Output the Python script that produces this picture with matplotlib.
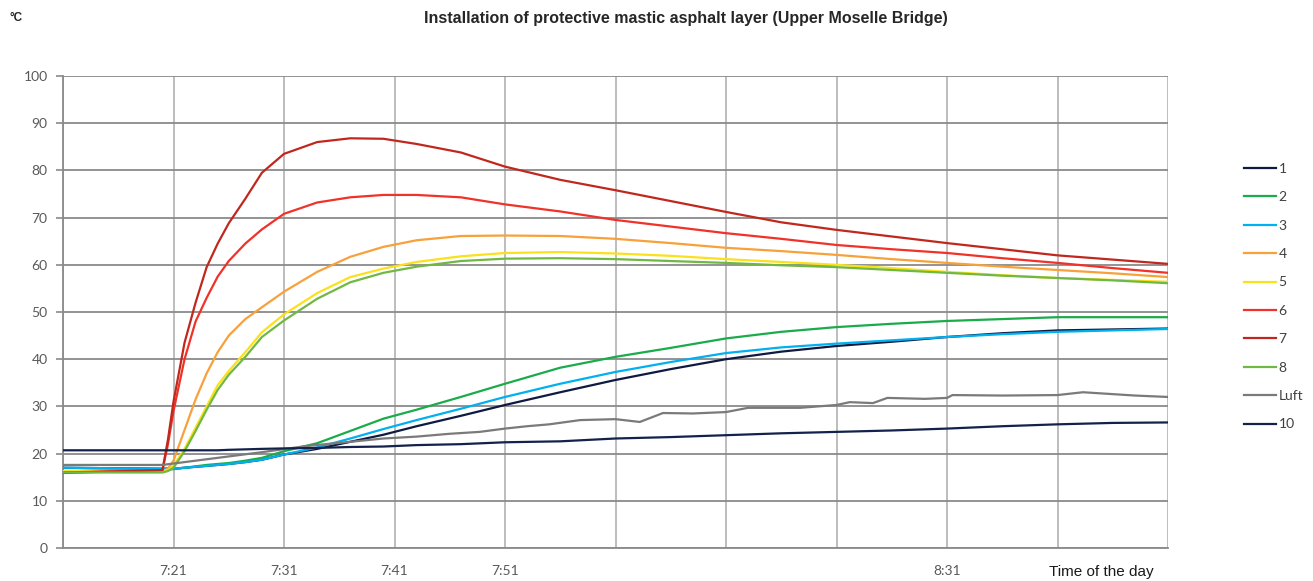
import matplotlib
matplotlib.use("Agg")
import matplotlib.pyplot as plt

# ---------------- data (minutes after 7:11) ----------------
t = [0, 9, 9.5, 10, 11, 12, 13, 14, 15, 16.5, 18, 20, 23, 26, 29, 32, 36, 40, 45, 50,
     55, 60, 65, 70, 75, 80, 85, 90, 95, 100]

s1 = [17.0, 16.8, 16.8, 16.8, 17.0, 17.2, 17.4, 17.6, 17.8, 18.2, 18.7, 19.8, 21.0, 22.5, 24.0,
      25.8, 28.0, 30.3, 33.0, 35.6, 37.9, 40.0, 41.6, 42.8, 43.7, 44.7, 45.5, 46.1, 46.3, 46.5]
s2 = [16.3, 16.5, 16.6, 16.7, 17.0, 17.3, 17.6, 17.8, 18.0, 18.5, 19.1, 20.5, 22.2, 24.8, 27.4,
      29.3, 32.0, 34.8, 38.2, 40.5, 42.4, 44.4, 45.8, 46.8, 47.5, 48.1, 48.5, 48.9, 48.9, 48.9]
s3 = [17.0, 16.8, 16.8, 16.8, 17.0, 17.2, 17.4, 17.6, 17.8, 18.2, 18.7, 19.8, 21.3, 23.2, 25.2,
      27.1, 29.5, 32.0, 34.8, 37.3, 39.4, 41.3, 42.5, 43.3, 44.0, 44.7, 45.3, 45.8, 46.1, 46.4]
s4 = [16.3, 16.3, 16.8, 18.5, 25.0, 31.5, 37.0, 41.5, 45.0, 48.5, 51.0, 54.3, 58.5, 61.7, 63.8,
      65.2, 66.1, 66.2, 66.1, 65.5, 64.6, 63.6, 62.9, 62.1, 61.2, 60.4, 59.6, 58.9, 58.2, 57.4]
s5 = [16.3, 16.3, 16.5, 17.5, 21.0, 25.5, 30.0, 34.5, 37.5, 41.5, 45.7, 49.5, 54.0, 57.4, 59.2,
      60.6, 61.8, 62.5, 62.7, 62.4, 61.9, 61.2, 60.6, 60.0, 59.3, 58.5, 57.8, 57.2, 56.8, 56.4]
s6 = [16.0, 16.5, 22.0, 29.0, 40.0, 48.0, 53.0, 57.5, 60.8, 64.5, 67.5, 70.8, 73.2, 74.3, 74.8,
      74.8, 74.3, 72.8, 71.3, 69.5, 68.1, 66.7, 65.5, 64.2, 63.3, 62.5, 61.4, 60.4, 59.3, 58.3]
s7 = [15.9, 16.5, 23.0, 31.0, 43.5, 52.0, 59.5, 64.5, 68.8, 74.0, 79.5, 83.5, 86.0, 86.8, 86.7,
      85.6, 83.8, 80.8, 78.0, 75.8, 73.5, 71.2, 69.0, 67.4, 66.0, 64.6, 63.3, 62.0, 61.1, 60.2]
s8 = [16.0, 16.0, 16.3, 17.0, 20.5, 24.8, 29.3, 33.5, 36.7, 40.5, 44.7, 48.2, 52.8, 56.3, 58.3,
      59.6, 60.8, 61.3, 61.4, 61.2, 60.8, 60.4, 59.9, 59.5, 58.9, 58.3, 57.7, 57.2, 56.7, 56.1]
s10 = [20.7, 20.7, 20.7, 20.7, 20.7, 20.7, 20.7, 20.7, 20.8, 20.9, 21.0, 21.1, 21.2, 21.4, 21.5,
       21.8, 22.0, 22.4, 22.6, 23.2, 23.5, 23.9, 24.3, 24.6, 24.9, 25.3, 25.8, 26.2, 26.5, 26.6]

t_luft = [0, 9, 14, 18, 22, 26, 29, 32, 35, 37.7, 40, 42, 44, 46.8, 50, 52.2, 54.3, 57, 60, 62,
          66.7, 70, 71.2, 73.3, 74.6, 78, 80, 80.5, 85, 90, 92.3, 95, 97, 100]
luft = [17.6, 17.6, 19.1, 20.3, 21.6, 22.5, 23.2, 23.6, 24.2, 24.6, 25.3, 25.8, 26.2, 27.1, 27.3,
        26.7, 28.6, 28.5, 28.8, 29.7, 29.7, 30.3, 30.9, 30.7, 31.8, 31.6, 31.8, 32.4, 32.3, 32.4,
        33.0, 32.6, 32.3, 32.0]

labels = ["1", "2", "3", "4", "5", "6", "7", "8", "Luft", "10"]
colors = ["#0e1a40", "#1aab4b", "#00b0f0", "#f8a13a", "#fbe01c", "#f03228", "#c0281e",
          "#70b844", "#7a7a7a", "#13224c"]

grid_x = [0, 10, 20, 30, 40, 50, 60, 70, 80, 90, 100]
grid_labels = ["", "7:21", "7:31", "7:41", "7:51", "", "", "", "8:31", "", ""]
tickmark_x = [0, 10, 20, 30, 40, 60, 80, 100]
y_ticks = [0, 10, 20, 30, 40, 50, 60, 70, 80, 90, 100]

# ---------------- figure ----------------
W, H = 1313, 581
fig = plt.figure(figsize=(W / 100, H / 100), dpi=100)
ax = fig.add_axes([63 / W, (H - 548) / H, (1168 - 63) / W, (548 - 76) / H])

series = [s1, s2, s3, s4, s5, s6, s7, s8, None, s10]
for lab, col, s in zip(labels, colors, series):
    if s is None:
        ax.plot(t_luft, luft, color=col, lw=1.6, label=lab, zorder=3)
    else:
        ax.plot(t, s, color=col, lw=1.6, label=lab, zorder=3)

ax.set_xlim(0, 100)
ax.set_ylim(0, 100)

# gridlines
for gx in grid_x:
    ax.axvline(gx, color="#b8b8b8", lw=1.3, zorder=1)
for gy in y_ticks:
    ax.axhline(gy, color="#8a8a8a", lw=1.3, zorder=1)

tick_font = dict(family="Lato", size=10, color="#595959")
ax.set_xticks(grid_x)
ax.set_xticklabels(grid_labels, **tick_font)
ax.tick_params(axis="x", which="major", length=0, pad=12)
ax.set_xticks(tickmark_x, minor=True)
ax.tick_params(axis="x", which="minor", length=5, color="#8a8a8a", width=1.2)

ax.set_yticks(y_ticks)
ax.set_yticklabels([str(v) for v in y_ticks], **tick_font)
ax.tick_params(axis="y", length=5, color="#8a8a8a", width=1.2, pad=6)

for side in ["top", "right"]:
    ax.spines[side].set_visible(False)
ax.spines["left"].set_color("#8a8a8a")
ax.spines["bottom"].set_color("#8a8a8a")
ax.spines["left"].set_linewidth(1.3)
ax.spines["bottom"].set_linewidth(1.3)

# texts
fig.text(686 / W, 1 - 18 / H, "Installation of protective mastic asphalt layer (Upper Moselle Bridge)",
         ha="center", va="center", fontsize=11.5, fontweight="bold", family="Liberation Sans",
         color="#262626")
fig.text(10 / W, 1 - 18 / H, "°C", ha="left", va="center", fontsize=8.5, fontweight="bold",
         family="Liberation Sans", color="#262626")
fig.text(1101 / W, 1 - 572 / H, "Time of the day", ha="center", va="center", fontsize=11,
         family="Liberation Sans", color="#1a1a1a")

leg = ax.legend(loc="upper left", bbox_to_anchor=(1237 / W, 1 - 156 / H),
                bbox_transform=fig.transFigure, frameon=False, borderpad=0,
                handlelength=2.3, handletextpad=0.2, labelspacing=1.18,
                prop={"family": "Lato", "size": 10})
for txt in leg.get_texts():
    txt.set_color("#404040")

fig.savefig("out.png", dpi=100)
